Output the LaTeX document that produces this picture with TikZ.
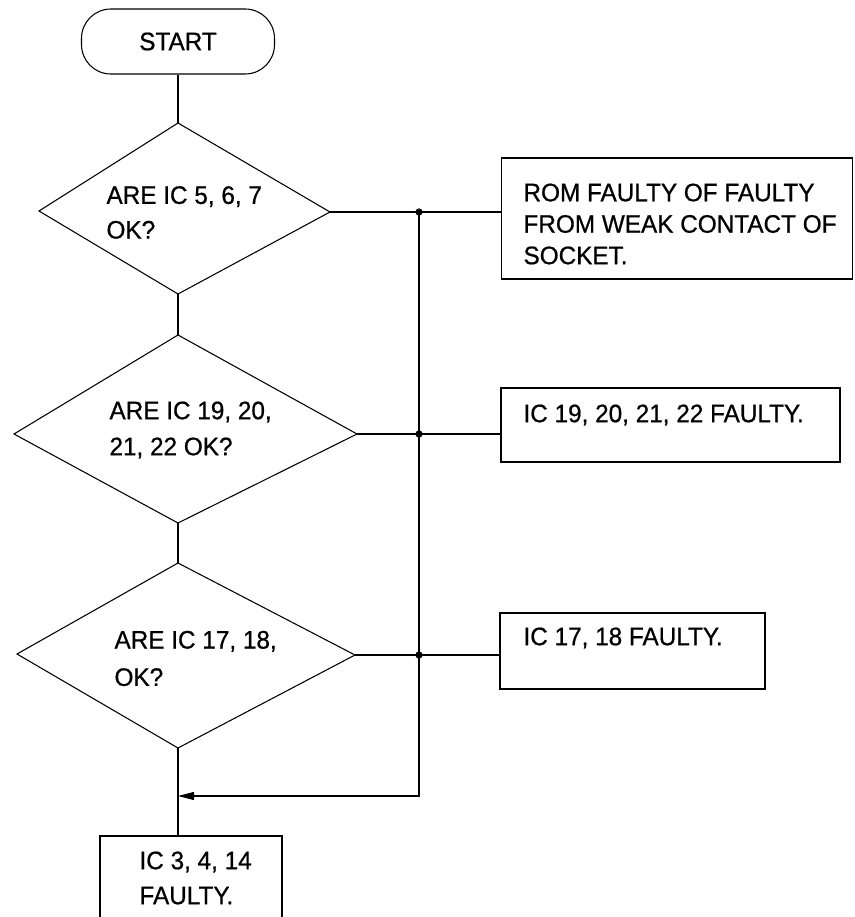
\documentclass[tikz,border=0pt]{standalone}
\usepackage{fontspec}
\setmainfont{Liberation Sans}[FakeStretch=0.96,FakeBold=0.7]
\usetikzlibrary{arrows.meta}
\begin{document}
\begin{tikzpicture}[x=0.75pt,y=-0.75pt,
  line width=0.8pt,
  txt/.style={anchor=west, align=left, inner sep=0pt, font=\fontsize{19}{26}\selectfont},
  boxnode/.style={draw, inner sep=0pt},
  jdot/.style={circle, fill, inner sep=0pt, minimum size=5.5pt},
]
\useasboundingbox (0,0) rectangle (854,917);

% start terminal
\node[boxnode, rounded corners=22pt, minimum width=144.75pt, minimum height=48.75pt,
      font=\fontsize{19}{26}\selectfont] (start) at (178,41.5) {START};

% diamond 1
\coordinate (d1t) at (178,123);
\coordinate (d1l) at (39,211);
\coordinate (d1r) at (330,212);
\coordinate (d1b) at (178,294);
\draw (d1t) -- (d1r) -- (d1b) -- (d1l) -- cycle;
\node[txt, font=\fontsize{19}{26}\selectfont] (q1) at (106,212.5) {ARE IC 5, 6, 7\\OK?};

% diamond 2
\coordinate (d2t) at (178,335);
\coordinate (d2l) at (14,434);
\coordinate (d2r) at (357,434);
\coordinate (d2b) at (178,523);
\draw (d2t) -- (d2r) -- (d2b) -- (d2l) -- cycle;
\node[txt, font=\fontsize{19}{27}\selectfont] (q2) at (109,430) {ARE IC 19, 20,\\21, 22 OK?};

% diamond 3
\coordinate (d3t) at (178,563);
\coordinate (d3l) at (17,654);
\coordinate (d3r) at (355,655);
\coordinate (d3b) at (178,748);
\draw (d3t) -- (d3r) -- (d3b) -- (d3l) -- cycle;
\node[txt, font=\fontsize{19}{28}\selectfont] (q3) at (114,658.5) {ARE IC 17, 18,\\OK?};

% result boxes
\node[boxnode, minimum width=263.6pt, minimum height=90.75pt] (rom) at (677,218.5) {};
\node[txt, font=\fontsize{19}{23.6}\selectfont] (romtxt) at (523,224) {ROM FAULTY OF FAULTY\\FROM WEAK CONTACT OF\\SOCKET.};

\node[boxnode, minimum width=254.25pt, minimum height=55.5pt] (b2) at (670.5,425) {};
\node[txt] (b2txt) at (523,415) {IC 19, 20, 21, 22 FAULTY.};

\node[boxnode, minimum width=198.75pt, minimum height=57pt] (b3) at (632.5,651) {};
\node[txt] (b3txt) at (523,638) {IC 17, 18 FAULTY.};

% bottom box (cut off at the lower edge)
\coordinate (b4nw) at (100,836);
\coordinate (b4ne) at (282,836);
\draw (b4nw |- 0,917) -- (b4nw) -- (b4ne) -- (b4ne |- 0,917);
\node[txt, font=\fontsize{19}{26.25}\selectfont] (b4txt) at (139,878) {IC 3, 4, 14\\FAULTY.};

% spine
\draw (start.south) -- (d1t);
\draw (d1b) -- (d2t);
\draw (d2b) -- (d3t);
\draw (d3b) -- (d3b |- b4nw);

% junctions
\coordinate (j1) at (419,212);
\coordinate (j2) at (419,434);
\coordinate (j3) at (419,655);
\coordinate (jc) at (419,796);
\draw (d1r) -- (d1r -| rom.west);
\draw (d2r) -- (d2r -| b2.west);
\draw (d3r) -- (d3r -| b3.west);
\node[jdot] (dot1) at (j1) {};
\node[jdot] (dot2) at (j2) {};
\node[jdot] (dot3) at (j3) {};
\draw[-{Triangle[length=12pt,width=6pt]}] (j1) -- (jc) -- (d3b |- jc);
\end{tikzpicture}
\end{document}
